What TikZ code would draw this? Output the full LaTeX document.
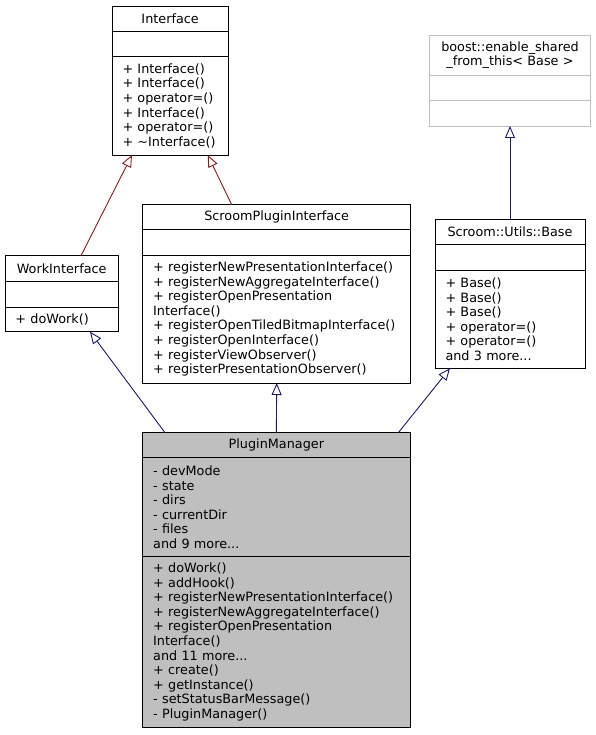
\documentclass[tikz,border=0pt]{standalone}
\usepackage{fontspec}
\setmainfont{DejaVu Sans}
\usetikzlibrary{arrows.meta}

\definecolor{pmgray}{RGB}{191,191,191}
\definecolor{inhblue}{RGB}{25,25,112}
\definecolor{inhred}{RGB}{139,26,26}
\newcommand\umlfont{\fontsize{12.8}{14.6}\selectfont\hyphenpenalty=10000 }

\begin{document}
\begin{tikzpicture}[
    x=1pt, y=-1pt, % pixel units, y going down
    > = {Triangle[open, length=12pt, width=10pt]}, % arrow head style
    part/.style={draw, line width=0.9pt, font=\umlfont, inner xsep=10.5pt,
        inner ysep=0pt, outer sep=0pt, anchor=north west},
    head/.style={part, align=center},
    body/.style={part, align=left},
    grey/.style={draw=pmgray},
    inh/.style={->, line width=0.9pt, draw=inhblue},
    inhpriv/.style={->, line width=0.9pt, draw=inhred},
]
\useasboundingbox (0,0) rectangle (596,735);

% Interface
\node[head, text width=95.3pt, minimum height=25.3pt] (ifaceT) at (112,6) {Interface};
\node[body, text width=95.3pt, minimum height=25.4pt] (ifaceA) at (ifaceT.south west) {};
\node[body, text width=95.3pt, minimum height=98.3pt] (ifaceO) at (ifaceA.south west)
    {+ Interface()\\+ Interface()\\+ operator=()\\+ Interface()\\+ operator=()\\+ \textasciitilde Interface()};

% boost::enable_shared_from_this
\node[head, grey, text width=140.4pt, minimum height=40.3pt] (boostT) at (429.3,35)
    {boost::enable\_shared\\\_from\_this< Base >};
\node[body, grey, text width=140.4pt, minimum height=25pt] (boostA) at (boostT.south west) {};
\node[body, grey, text width=140.4pt, minimum height=25.7pt] (boostO) at (boostA.south west) {};

% WorkInterface
\node[head, text width=92.3pt, minimum height=25.3pt] (workT) at (5,255.7) {WorkInterface};
\node[body, text width=92.3pt, minimum height=26pt] (workA) at (workT.south west) {};
\node[body, text width=92.3pt, minimum height=24.7pt] (workO) at (workA.south west) {+ doWork()};

% ScroomPluginInterface
\node[head, text width=247pt, minimum height=25pt] (spiT) at (142.7,204.7) {ScroomPluginInterface};
\node[body, text width=247pt, minimum height=25.3pt] (spiA) at (spiT.south west) {};
\node[body, text width=247pt, minimum height=128pt] (spiO) at (spiA.south west)
    {+ registerNewPresentationInterface()\\+ registerNewAggregateInterface()\\+ registerOpenPresentation\\Interface()\\+ registerOpenTiledBitmapInterface()\\+ registerOpenInterface()\\+ registerViewObserver()\\+ registerPresentationObserver()};

% Scroom::Utils::Base
\node[head, text width=129pt, minimum height=25.3pt] (baseT) at (435,219) {Scroom::Utils::Base};
\node[body, text width=129pt, minimum height=25.7pt] (baseA) at (baseT.south west) {};
\node[body, text width=129pt, minimum height=98.3pt] (baseO) at (baseA.south west)
    {+ Base()\\+ Base()\\+ Base()\\+ operator=()\\+ operator=()\\and 3 more...};

% PluginManager
\node[head, fill=pmgray, text width=246.3pt, minimum height=25pt] (pmT) at (142.7,432.7) {PluginManager};
\node[body, fill=pmgray, text width=246.3pt, minimum height=99pt] (pmA) at (pmT.south west)
    {- devMode\\- state\\- dirs\\- currentDir\\- files\\and 9 more...};
\node[body, fill=pmgray, text width=246.3pt, minimum height=170.6pt] (pmO) at (pmA.south west)
    {+ doWork()\\+ addHook()\\+ registerNewPresentationInterface()\\+ registerNewAggregateInterface()\\+ registerOpenPresentation\\Interface()\\and 11 more...\\+ create()\\+ getInstance()\\- setStatusBarMessage()\\- PluginManager()};

% inheritance
\draw[inhpriv] ([xshift=76pt]workT.north west) -- ([xshift=20pt]ifaceO.south west);
\draw[inhpriv] ([xshift=89pt]spiT.north west) -- ([xshift=95.7pt]ifaceO.south west);
\draw[inh] (baseT.north) -- (boostO.south);
\draw[inh] ([xshift=22.3pt]pmT.north west) -- ([xshift=85pt]workO.south west);
\draw[inh] (pmT.north) -- (spiO.south);
\draw[inh] ([xshift=255.6pt]pmT.north west) -- ([xshift=15pt]baseO.south west);
\end{tikzpicture}
\end{document}
